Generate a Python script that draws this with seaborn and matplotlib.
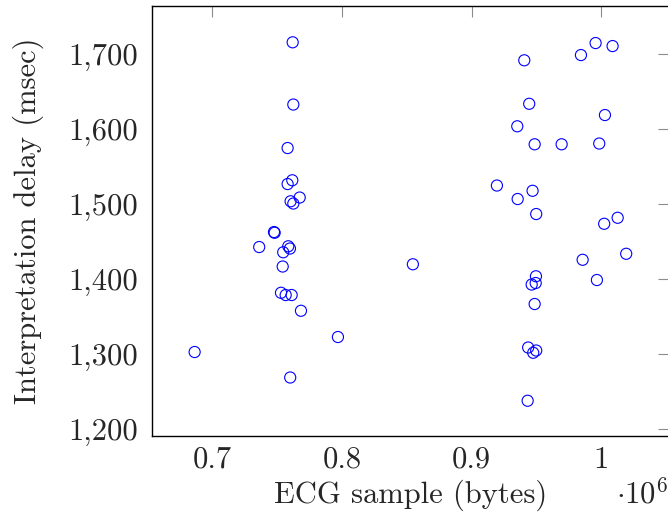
import matplotlib
matplotlib.use("Agg")
import matplotlib.pyplot as plt
import matplotlib.ticker as mticker
import seaborn as sns
import pandas as pd

# -----------------------------------
# Data
# -----------------------------------
sample_bytes = [
    762000, 762500, 758100, 761700, 758100, 767400, 760400, 762500,
    747600, 748100, 736200, 758600, 759900, 754700, 754300, 753000,
    756600, 761200, 768400, 796900, 686400, 760100, 854700,
    940600, 984300, 995600, 1008700, 944400, 935200, 1002800, 948600,
    969400, 998400, 919500, 935500, 947000, 949800, 1002200, 1012600,
    985600, 1019200, 949600, 946300, 949400, 948600, 996600, 943600,
    947500, 949800, 943200,
]
delay_ms = [
    1716, 1633, 1575, 1532, 1527, 1509, 1504, 1501,
    1463, 1462, 1443, 1444, 1441, 1436, 1417, 1382,
    1379, 1379, 1358, 1323, 1303, 1269, 1420,
    1692, 1699, 1715, 1711, 1634, 1604, 1619, 1580,
    1580, 1581, 1525, 1507, 1518, 1487, 1474, 1482,
    1426, 1434, 1404, 1393, 1395, 1367, 1399, 1309,
    1302, 1305, 1238,
]
x_ticks = [700000, 800000, 900000, 1000000]
x_tick_labels = ["0.7", "0.8", "0.9", "1"]
y_ticks = [1200, 1300, 1400, 1500, 1600, 1700]
y_tick_labels = ["1,200", "1,300", "1,400", "1,500", "1,600", "1,700"]

df = pd.DataFrame({"bytes": sample_bytes, "delay": delay_ms})

# -----------------------------------
# Style
# -----------------------------------
sns.set_style("white")
plt.rcParams["font.family"] = ["cmr10", "DejaVu Serif"]
plt.rcParams["mathtext.fontset"] = "cm"
plt.rcParams["axes.formatter.use_mathtext"] = True

FS = 22

fig = plt.figure(figsize=(6.68, 5.18), dpi=100)
ax = fig.add_axes([0.2275, 0.1583, 0.7740, 0.8301])

sns.scatterplot(data=df, x="bytes", y="delay", ax=ax, marker="o", s=64,
                facecolor="none", edgecolor="blue", linewidth=0.8,
                legend=False)

ax.set_xlim(653500, 1052200)
ax.set_ylim(1191, 1764.4)

ax.set_xticks(x_ticks)
ax.xaxis.set_major_formatter(mticker.FixedFormatter(x_tick_labels))
ax.set_yticks(y_ticks)
ax.yaxis.set_major_formatter(mticker.FixedFormatter(y_tick_labels))

ax.tick_params(direction="in", length=7.9, width=0.8, color="#8c8c8c",
               top=True, right=True, labelsize=FS)
ax.tick_params(axis="x", pad=7.5)
ax.tick_params(axis="y", pad=10)

for sp in ax.spines.values():
    sp.set_color("black")
    sp.set_linewidth(1.0)

ax.set_xlabel("ECG sample (bytes)", fontsize=FS)
ax.set_ylabel("Interpretation delay (msec)", fontsize=FS)
ax.xaxis.label.set_va("baseline")
ax.xaxis.set_label_coords(0.5, -0.156)
ax.yaxis.set_label_coords(-0.209, 0.5)

ax.text(0.998, -0.156, r"$\cdot 10^{6}$", transform=ax.transAxes,
        fontsize=FS, ha="right", va="baseline")

fig.savefig("out.png", dpi=100)
plt.close(fig)
